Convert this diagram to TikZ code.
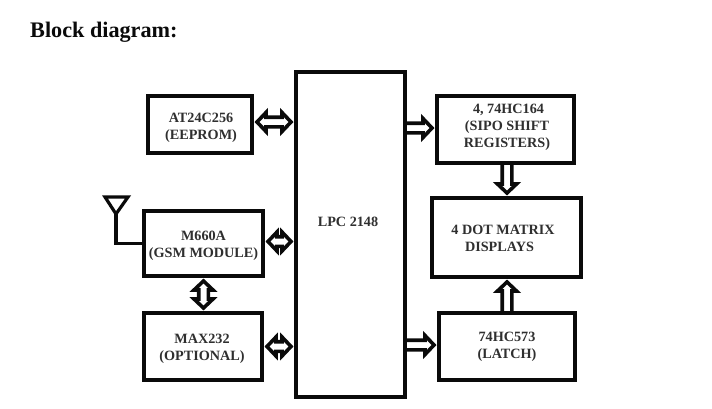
\documentclass[tikz,border=0pt]{standalone}
\usepackage{fontspec}
\setmainfont{Liberation Serif}
\usetikzlibrary{calc}
\definecolor{ink}{HTML}{0A0A0A}
\def\hdw{9.5pt}\def\shw{4.8pt}\def\hdl{9pt}\def\gap{5pt}
\newsavebox\nudgebox
\newcommand\nudged[3]{\sbox\nudgebox{\begin{tabular}{@{}c@{}}#3\end{tabular}}\hspace*{#1}\raisebox{#2}[\ht\nudgebox][\dp\nudgebox]{\usebox\nudgebox}}
\tikzset{
  x=1pt,y=-1pt,
  blockbox/.style={draw=ink,line width=3.5pt,fill=white,outer sep=0pt,inner sep=0pt,align=center,
    font=\bfseries\fontsize{14.2}{17}\selectfont,text=ink!85!white},
  arrowline/.style={draw=ink,line width=3.6pt,fill=white,line join=miter,miter limit=10},
  % hollow arrow with a head at both ends
  fatboth/.style={arrowline,to path={
    ($(\tikztostart)!\gap!(\tikztotarget)$) coordinate (ta)
    ($(\tikztotarget)!\gap!(\tikztostart)$) coordinate (tb)
    ($(ta)!\hdl!(tb)$) coordinate (sa)
    ($(tb)!\hdl!(ta)$) coordinate (sb)
    (ta) -- ($(sa)!\hdw!90:(sb)$) -- ($(sa)!\shw!90:(sb)$) -- ($(sb)!\shw!-90:(sa)$)
    -- ($(sb)!\hdw!-90:(sa)$) -- (tb) -- ($(sb)!\hdw!90:(sa)$) -- ($(sb)!\shw!90:(sa)$)
    -- ($(sa)!\shw!-90:(sb)$) -- ($(sa)!\hdw!-90:(sb)$) -- cycle}},
  % hollow arrow with a head at the target only
  fatone/.style={arrowline,to path={
    ($(\tikztotarget)!\gap!(\tikztostart)$) coordinate (tb)
    ($(tb)!\hdl!(\tikztostart)$) coordinate (sb)
    (\tikztostart) coordinate (ta)
    ($(ta)!\shw!90:(sb)$) -- ($(sb)!\shw!-90:(ta)$) -- ($(sb)!\hdw!-90:(ta)$) -- (tb)
    -- ($(sb)!\hdw!90:(ta)$) -- ($(sb)!\shw!90:(ta)$) -- ($(ta)!\shw!-90:(sb)$) -- cycle}},
}
\begin{document}
\begin{tikzpicture}
\useasboundingbox (0,0) rectangle (712,408);
\fill[white] (0,0) rectangle (712,408);
\node[anchor=base west,font=\bfseries\fontsize{22.2}{24}\selectfont,text=ink,inner sep=0pt] (title) at (30,37) {Block diagram:};

\node[blockbox,minimum width=109pt,minimum height=325pt,
  label={[name=lpclabel,xshift=-2.5pt,yshift=13pt,font=\bfseries\fontsize{14.2}{16}\selectfont,text=ink!85!white]center:LPC 2148}] (lpc) at (350.5,234.5) {};
\node[blockbox,minimum width=104pt,minimum height=57pt] (eeprom) at (200,124.5) {\nudged{2pt}{-3.5pt}{AT24C256\\(EEPROM)}};
\node[blockbox,minimum width=119pt,minimum height=65pt] (gsm) at (203.5,243.5) {\nudged{0pt}{-2pt}{M660A\\(GSM MODULE)}};
\node[blockbox,minimum width=118pt,minimum height=67pt] (max) at (203,346.5) {\nudged{-2pt}{-2.5pt}{MAX232\\(OPTIONAL)}};
\node[blockbox,minimum width=137pt,minimum height=67pt] (sipo) at (505.5,129.5) {\nudged{3pt}{2.5pt}{\hspace*{3pt}4, 74HC164\\(SIPO SHIFT\\REGISTERS)}};
\node[blockbox,minimum width=149pt,minimum height=79pt] (dot) at (506.5,237.5) {\nudged{-7pt}{-2.5pt}{4 DOT MATRIX\\DISPLAYS\hspace*{7pt}}};
\node[blockbox,minimum width=136pt,minimum height=67pt] (latch) at (507,346.5) {\nudged{0pt}{0pt}{74HC573\\(LATCH)}};

\draw[fatboth] ([yshift=2.5pt]eeprom.east) to ([yshift=2.5pt]lpc.west |- eeprom.east);
\draw[fatboth] ([yshift=2pt]gsm.east) to ([yshift=2pt]lpc.west |- gsm.east);
\draw[fatboth] (max.east) to (lpc.west |- max.east);
\draw[fatboth] (gsm.south) to (gsm.south |- max.north);
\draw[fatone] ([yshift=1.5pt]lpc.east |- sipo.west) to ([yshift=1.5pt]sipo.west);
\draw[fatone] ([yshift=1.5pt]lpc.east |- latch.west) to ([yshift=1.5pt]latch.west);
\draw[fatone] ([xshift=1.5pt]sipo.south) to ([xshift=1.5pt]sipo.south |- dot.north);
\draw[fatone] (latch.north) to (latch.north |- dot.south);

\coordinate (anttip) at (116,214);
\coordinate (antl) at (105,197);
\coordinate (antr) at (128,197);
\draw[draw=ink,line width=3.2pt,line join=miter] (antl) -- (antr) -- (anttip) -- cycle;
\draw[draw=ink,line width=3.5pt] (anttip) |- (gsm.west);
\end{tikzpicture}
\end{document}
